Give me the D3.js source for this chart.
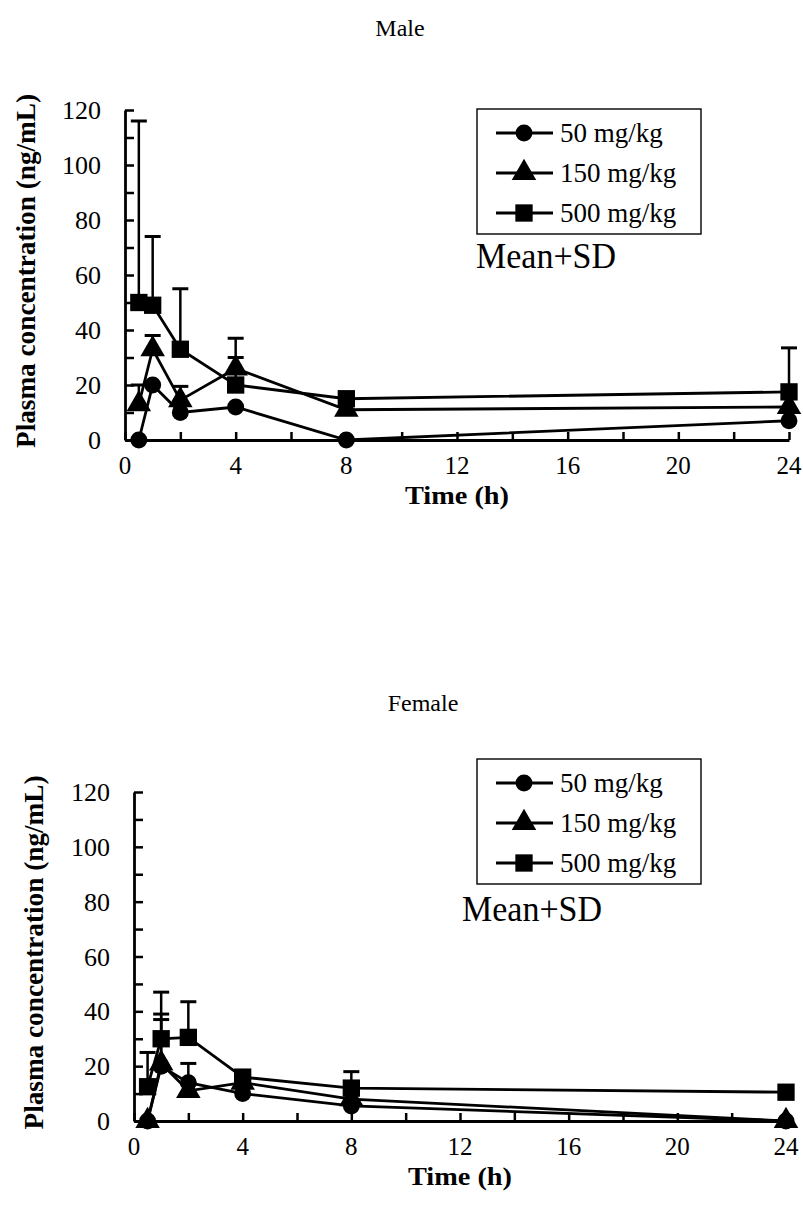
<!DOCTYPE html>
<html>
<head>
<meta charset="utf-8">
<script src="https://cdn.jsdelivr.net/npm/d3@7"></script>
<style>
  body { margin: 0; background: #fff; }
  svg { display: block; }
  text { font-family: "Liberation Serif", "Times New Roman", serif; fill: #000; }
</style>
</head>
<body>
<script>
// sampling times (h)
const times = [0.5, 1, 2, 4, 8, 24];

// Male, mean and SD (ng/mL), null = no visible bar
const male50    = [0, 20, 10, 12, 0, 7];
const male50sd  = [null, null, null, null, null, null];
const male150   = [13, 33, 14.5, 26, 11, 12];
const male150sd = [7, 5, 5, 4, null, null];
const male500   = [50, 49, 33, 20, 15, 17.5];
const male500sd = [66, 25, 22, 17, null, 16];

// Female
const female50    = [0, 20, 14, 10, 5.5, 0];
const female50sd  = [null, 17, 7, null, null, null];
const female150   = [0, 21, 11, 14, 8, 0];
const female150sd = [null, 18, null, null, null, null];
const female500   = [12.5, 30, 30.5, 16, 12, 10.5];
const female500sd = [12.5, 17, 13, null, 6, null];

const doses = ["50 mg/kg", "150 mg/kg", "500 mg/kg"];
const shapes = [d3.symbolCircle, d3.symbolTriangle, d3.symbolSquare];
const shapeSize = [225, 260, 300];
const xTicks = [0, 4, 8, 12, 16, 20, 24];
const yTicks = [0, 20, 40, 60, 80, 100, 120];

const W = 803, H = 1218;
const svg = d3.select("body").append("svg")
    .attr("width", W)
    .attr("height", H);

const panels = [
  { title: "Male", titleX: 400, titleY: 36,
    left: 125, right: 789, top: 110, bottom: 440,
    means: [male50, male150, male500], sds: [male50sd, male150sd, male500sd],
    legendX: 477, legendY: 109, meanX: 476, meanY: 268, yTitleX: 26 },
  { title: "Female", titleX: 423, titleY: 711,
    left: 134, right: 786, top: 792, bottom: 1121,
    means: [female50, female150, female500], sds: [female50sd, female150sd, female500sd],
    legendX: 477, legendY: 759, meanX: 462, meanY: 921, yTitleX: 34 }
];

panels.forEach(drawPanel);

function drawPanel(p) {
  const x = d3.scaleLinear().domain([0, 24]).range([p.left, p.right]);
  const y = d3.scaleLinear().domain([0, 120]).range([p.bottom, p.top]);
  const g = svg.append("g");

  g.append("text")
      .attr("x", p.titleX).attr("y", p.titleY)
      .attr("text-anchor", "middle")
      .style("font-size", "24px")
      .text(p.title);

  // axes: ticks point inward
  const xAxis = d3.axisBottom(x).tickValues(d3.range(0, 25, 2))
      .tickSizeInner(-8).tickSizeOuter(0).tickFormat("");
  const yAxis = d3.axisLeft(y).tickValues(d3.range(0, 121, 10))
      .tickSizeInner(-9).tickSizeOuter(0).tickFormat("");

  const gx = g.append("g").attr("transform", `translate(0,${p.bottom})`).call(xAxis);
  const gy = g.append("g").attr("transform", `translate(${p.left},0)`).call(yAxis);
  [gx, gy].forEach(a => {
    a.select(".domain").attr("stroke", "#000").attr("stroke-width", 2.8);
    a.selectAll(".tick line").attr("stroke", "#000").attr("stroke-width", 2.5);
  });

  g.selectAll("text.xt").data(xTicks).enter().append("text")
      .attr("class", "xt")
      .attr("x", d => x(d)).attr("y", p.bottom + 34)
      .attr("text-anchor", "middle")
      .style("font-size", "25px")
      .text(d => d);

  g.selectAll("text.yt").data(yTicks).enter().append("text")
      .attr("class", "yt")
      .attr("x", p.left - 24).attr("y", d => y(d) + 9)
      .attr("text-anchor", "end")
      .style("font-size", "26px")
      .text(d => d);

  g.append("text")
      .attr("x", (p.left + p.right) / 2 - 0).attr("y", p.bottom + 64)
      .attr("text-anchor", "middle")
      .attr("textLength", 104).attr("lengthAdjust", "spacingAndGlyphs")
      .style("font-size", "25px").style("font-weight", "bold")
      .text("Time (h)");

  const ymid = (p.top + p.bottom) / 2 - 4;
  g.append("text")
      .attr("transform", `translate(${p.yTitleX + 9},${ymid}) rotate(-90)`)
      .attr("text-anchor", "middle")
      .attr("textLength", 354).attr("lengthAdjust", "spacingAndGlyphs")
      .style("font-size", "27px").style("font-weight", "bold")
      .text("Plasma concentration (ng/mL)");

  const line = d3.line().x((d, i) => x(times[i])).y(d => y(d));

  p.means.forEach((m, k) => {
    g.append("path")
        .datum(m)
        .attr("d", line)
        .attr("fill", "none")
        .attr("stroke", "#000")
        .attr("stroke-width", 2.8);
  });

  // error bars (mean + SD only)
  p.means.forEach((m, k) => {
    const bars = times.map((t, i) => ({ t: t, m: m[i], sd: p.sds[k][i] }))
        .filter(d => d.sd != null);
    g.selectAll(null).data(bars).enter().append("line")
        .attr("x1", d => x(d.t)).attr("x2", d => x(d.t))
        .attr("y1", d => y(d.m)).attr("y2", d => y(d.m + d.sd))
        .attr("stroke", "#000").attr("stroke-width", 2.5);
    g.selectAll(null).data(bars).enter().append("line")
        .attr("x1", d => x(d.t) - 8).attr("x2", d => x(d.t) + 8)
        .attr("y1", d => y(d.m + d.sd)).attr("y2", d => y(d.m + d.sd))
        .attr("stroke", "#000").attr("stroke-width", 3);
  });

  p.means.forEach((m, k) => {
    g.selectAll(null).data(m).enter().append("path")
        .attr("d", d3.symbol().type(shapes[k]).size(shapeSize[k]))
        .attr("transform", (d, i) => `translate(${x(times[i])},${y(d)})`)
        .attr("fill", "#000");
  });

  // legend
  const lg = g.append("g").attr("transform", `translate(${p.legendX},${p.legendY})`);
  lg.append("rect")
      .attr("width", 224).attr("height", 125)
      .attr("fill", "#fff").attr("stroke", "#000").attr("stroke-width", 1.4);
  doses.forEach((name, k) => {
    const ry = 24 + k * 40;
    lg.append("line").attr("x1", 19).attr("x2", 76).attr("y1", ry).attr("y2", ry)
        .attr("stroke", "#000").attr("stroke-width", 2.8);
    lg.append("path")
        .attr("d", d3.symbol().type(shapes[k]).size(shapeSize[k]))
        .attr("transform", `translate(47,${ry})`)
        .attr("fill", "#000");
    lg.append("text").attr("x", 83).attr("y", ry + 9)
        .style("font-size", "27px")
        .text(name);
  });

  g.append("text")
      .attr("x", p.meanX).attr("y", p.meanY)
      .attr("textLength", 140).attr("lengthAdjust", "spacingAndGlyphs")
      .style("font-size", "36px")
      .text("Mean+SD");
}
</script>
</body>
</html>
